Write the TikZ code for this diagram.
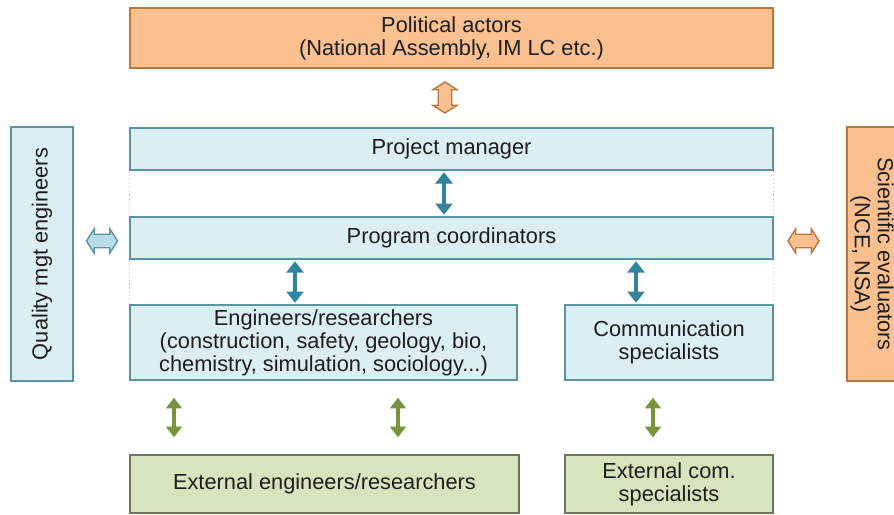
\documentclass[tikz,border=0pt]{standalone}
\usepackage{fontspec}
\setmainfont{Liberation Sans}
\usetikzlibrary{arrows.meta,shapes.arrows}

\definecolor{orfill}{HTML}{FAC090}
\definecolor{ordraw}{HTML}{B9773F}
\definecolor{blfill}{HTML}{DBEEF4}
\definecolor{bldraw}{HTML}{5B939F}
\definecolor{blmid}{HTML}{B7DEE8}
\definecolor{blarrow}{HTML}{31849B}
\definecolor{grfill}{HTML}{D7E4BD}
\definecolor{grdraw}{HTML}{6F7556}
\definecolor{grarrow}{HTML}{77933C}
\definecolor{txt}{HTML}{1E1E1E}
\def\pu{0.025cm}

\begin{document}
\begin{tikzpicture}
        [x=\pu, y=-\pu,
        box/.style={rectangle, draw, line width=1.2pt, text=txt, align=center, inner sep=0pt,
            font=\fontsize{15.5}{16.4}\selectfont},
        political/.style={box, fill=orfill, draw=ordraw},
        staff/.style={box, fill=blfill, draw=bldraw},
        external/.style={box, fill=grfill, draw=grdraw},
        link/.style={line width=2.6pt, blarrow, {Triangle[width=12pt,length=8pt]}-{Triangle[width=12pt,length=8pt]}, shorten <=1pt, shorten >=1pt},
        extlink/.style={line width=2.6pt, grarrow, {Triangle[width=11pt,length=7.5pt]}-{Triangle[width=11pt,length=7.5pt]}, shorten <=12pt, shorten >=12pt},
        bigarrow/.style={double arrow, draw, line width=1pt, minimum height=31*\pu, inner sep=4.3pt,
            double arrow head extend=3.8pt, double arrow tip angle=115},
        dotline/.style={gray!50, dotted, line width=0.8pt}]

        \path[use as bounding box, clip] (0,0) rectangle (894,514);

        % top row
        \node[political, minimum width=643*\pu, minimum height=60*\pu] (pol) at (451.5,38)
            {Political actors\\(National Assembly, IM LC etc.)};

        % project team
        \node[staff, minimum width=643*\pu, minimum height=42*\pu] (pm) at (451.5,149) {Project manager};
        \node[staff, minimum width=643*\pu, minimum height=42*\pu] (pc) at (451.5,238) {Program coordinators};
        \node[staff, minimum width=387*\pu, minimum height=75*\pu] (eng) at (323.5,342.5)
            {Engineers/researchers\\(construction, safety, geology, bio,\\chemistry, simulation, sociology...)};
        \node[staff, minimum width=208*\pu, minimum height=75*\pu] (com) at (669,342.5)
            {Communication\\specialists};

        % external people
        \node[external, minimum width=389*\pu, minimum height=58*\pu] (exteng) at (324.5,484)
            {External engineers/researchers};
        \node[external, minimum width=208*\pu, minimum height=58*\pu] (extcom) at (669,484)
            {External com.\\specialists};

        % side boxes
        \node[staff, rotate=90, minimum width=254*\pu, minimum height=62*\pu] (quality) at (42,254)
            {Quality mgt engineers};
        \node[political, rotate=-90, minimum width=254*\pu, minimum height=50*\pu] (sci) at (872,254)
            {Scientific evaluators\\(NCE, NSA)};

        % block arrows
        \node[bigarrow, fill=orfill, draw=ordraw, rotate=90] (polarrow) at (445,97.5) {};
        \node[bigarrow, fill=blmid, draw=bldraw] (qualarrow) at (102,241) {};
        \node[bigarrow, fill=orfill, draw=ordraw] (sciarrow) at (803.5,241) {};

        % dotted team border
        \draw[dotline] (pm.south west) -- (pc.north west);
        \draw[dotline] (pc.south west) -- (eng.north west);
        \draw[dotline] (pm.south east) -- (pc.north east);
        \draw[dotline] (pc.south east) -- (com.north east);

        % internal links
        \coordinate (c1) at (444,0);
        \coordinate (c2) at (295,0);
        \coordinate (c3) at (636,0);
        \draw[link] (pm.south -| c1) -- (pc.north -| c1);
        \draw[link] (pc.south -| c2) -- (eng.north -| c2);
        \draw[link] (pc.south -| c3) -- (com.north -| c3);

        % links to external people
        \coordinate (g1) at (174,0);
        \coordinate (g2) at (398,0);
        \coordinate (g3) at (653,0);
        \draw[extlink] (eng.south -| g1) -- (exteng.north -| g1);
        \draw[extlink] (eng.south -| g2) -- (exteng.north -| g2);
        \draw[extlink] (com.south -| g3) -- (extcom.north -| g3);
    \end{tikzpicture}
\end{document}
